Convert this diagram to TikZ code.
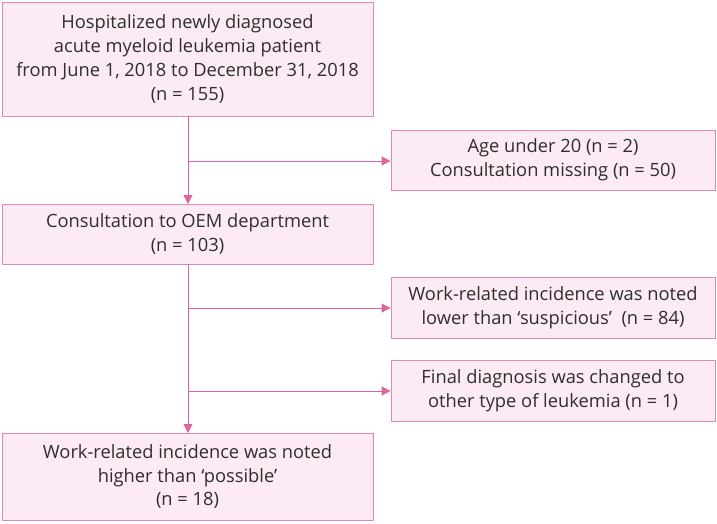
\documentclass[tikz,border=0pt]{standalone}
\usepackage{fontspec}
\setmainfont{Open Sans}
\usetikzlibrary{arrows.meta}
\definecolor{boxfill}{HTML}{FCEAF4}
\definecolor{boxline}{HTML}{E286B8}
\definecolor{arrowc}{HTML}{E0629F}
\definecolor{txt}{HTML}{2E2E2E}
\tikzset{
  box/.style={draw=boxline, fill=boxfill, line width=0.9pt, align=center,
    text=txt, font=\fontsize{18.3}{23.7}\selectfont, inner sep=0pt},
  conn/.style={draw=arrowc, line width=0.9pt},
  arr/.style={conn, -{Triangle[length=9pt,width=9pt]}}
}
\begin{document}
\begin{tikzpicture}[x=1pt,y=-1pt]
\useasboundingbox (0,0) rectangle (717,523);
\node[box, minimum width=371pt, minimum height=114pt] (top) at (187.5,59)
  {Hospitalized newly diagnosed\\acute myeloid leukemia patient\\from June 1, 2018 to December 31, 2018\\(n = 155)};
\node[box, minimum width=324pt, minimum height=60pt] (b1) at (553,160)
  {Age under 20 (n = 2)\\Consultation missing (n = 50)};
\node[box, minimum width=371pt, minimum height=60pt] (mid) at (187.5,234)
  {Consultation to OEM department\\(n = 103)};
\node[box, minimum width=324pt, minimum height=61pt] (b2) at (553,307.5)
  {Work-related incidence was noted\\lower than ‘suspicious’~ (n = 84)};
\node[box, minimum width=324pt, minimum height=61pt] (b3) at (553,390.5)
  {Final diagnosis was changed to\\other type of leukemia (n = 1)};
\node[box, minimum width=371pt, minimum height=87pt] (bot) at (187.5,476.5)
  {Work-related incidence was noted\\higher than ‘possible’\\(n = 18)};
\coordinate (t0) at (188,116);
\coordinate (j1) at (188,161);
\coordinate (t1) at (188,204);
\coordinate (m0) at (188,264);
\coordinate (j2) at (188,308);
\coordinate (j3) at (188,391);
\coordinate (m1) at (188,433);
\draw[arr] (t0) -- (t1);
\draw[arr] (j1) -- (j1 -| b1.west);
\draw[arr] (m0) -- (m1);
\draw[arr] (j2) -- (j2 -| b2.west);
\draw[arr] (j3) -- (j3 -| b3.west);
\end{tikzpicture}
\end{document}
